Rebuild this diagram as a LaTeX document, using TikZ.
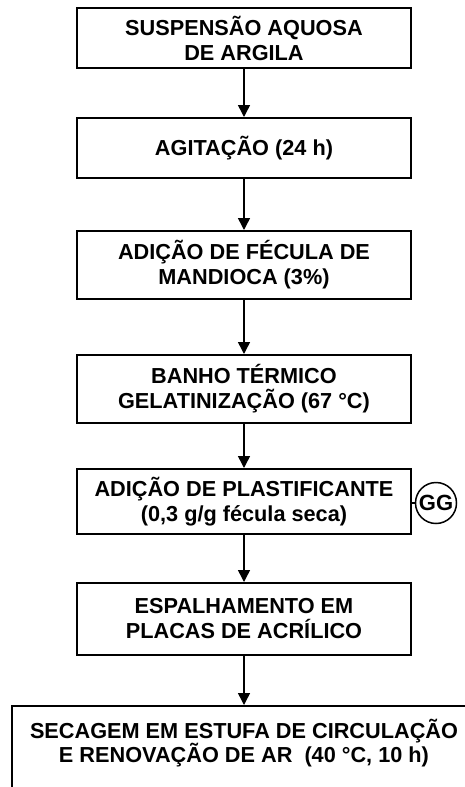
\documentclass[tikz,border=0pt]{standalone}
\usepackage{fontspec}
\setmainfont{Liberation Sans}
\usetikzlibrary{arrows.meta}
\begin{document}
\begin{tikzpicture}[x=1pt,y=-1pt,
  stepbox/.style={draw=black,line width=2pt,minimum width=334pt,inner sep=0pt,
    align=center,font=\fontsize{21.7}{25}\selectfont\bfseries},
  txt/.style={align=center,inner sep=0pt,font=\fontsize{21.7}{24.5}\selectfont\bfseries},
  flow/.style={line width=1.5pt,-{Triangle[width=12pt,length=12pt]}}]
\useasboundingbox (0,0) rectangle (465,787);
\clip (0,0) rectangle (465,787);
\node[stepbox,minimum height=60pt] (b1) at (244,38) {SUSPENSÃO AQUOSA\\DE ARGILA};
\node[stepbox,minimum height=60pt] (b2) at (244,148) {AGITAÇÃO (24 h)};
\node[stepbox,minimum height=68pt] (b3) at (244,265) {ADIÇÃO DE FÉCULA DE\\MANDIOCA (3\%)};
\node[stepbox,minimum height=68pt] (b4) at (244,389) {BANHO TÉRMICO\\GELATINIZAÇÃO (67 °C)};
\node[stepbox,minimum height=65pt] (b5) at (244,501.5) {ADIÇÃO DE PLASTIFICANTE\\(0,3 g/g fécula seca)};
\node[stepbox,minimum height=72pt] (b6) at (244,619) {ESPALHAMENTO EM\\PLACAS DE ACRÍLICO};
\node[draw=black,line width=2pt,minimum width=464pt,minimum height=140pt,inner sep=0pt,anchor=north] (b7) at (244,705) {};
\node[txt] (t7) at (244,743) {SECAGEM EM ESTUFA DE CIRCULAÇÃO\\E RENOVAÇÃO DE AR \ (40 °C, 10 h)};
\node[draw=black,line width=1.5pt,circle,minimum size=41pt,inner sep=0pt,
  font=\fontsize{22}{22}\selectfont\bfseries] (gg) at (436,503) {GG};
\draw[flow] (b1) -- (b2);
\draw[flow] (b2) -- (b3);
\draw[flow] (b3) -- (b4);
\draw[flow] (b4) -- (b5);
\draw[flow] (b5) -- (b6);
\draw[flow] (b6) -- (b7);
\draw[line width=1.2pt] (b5.east |- gg) -- (gg.west);
\end{tikzpicture}
\end{document}
